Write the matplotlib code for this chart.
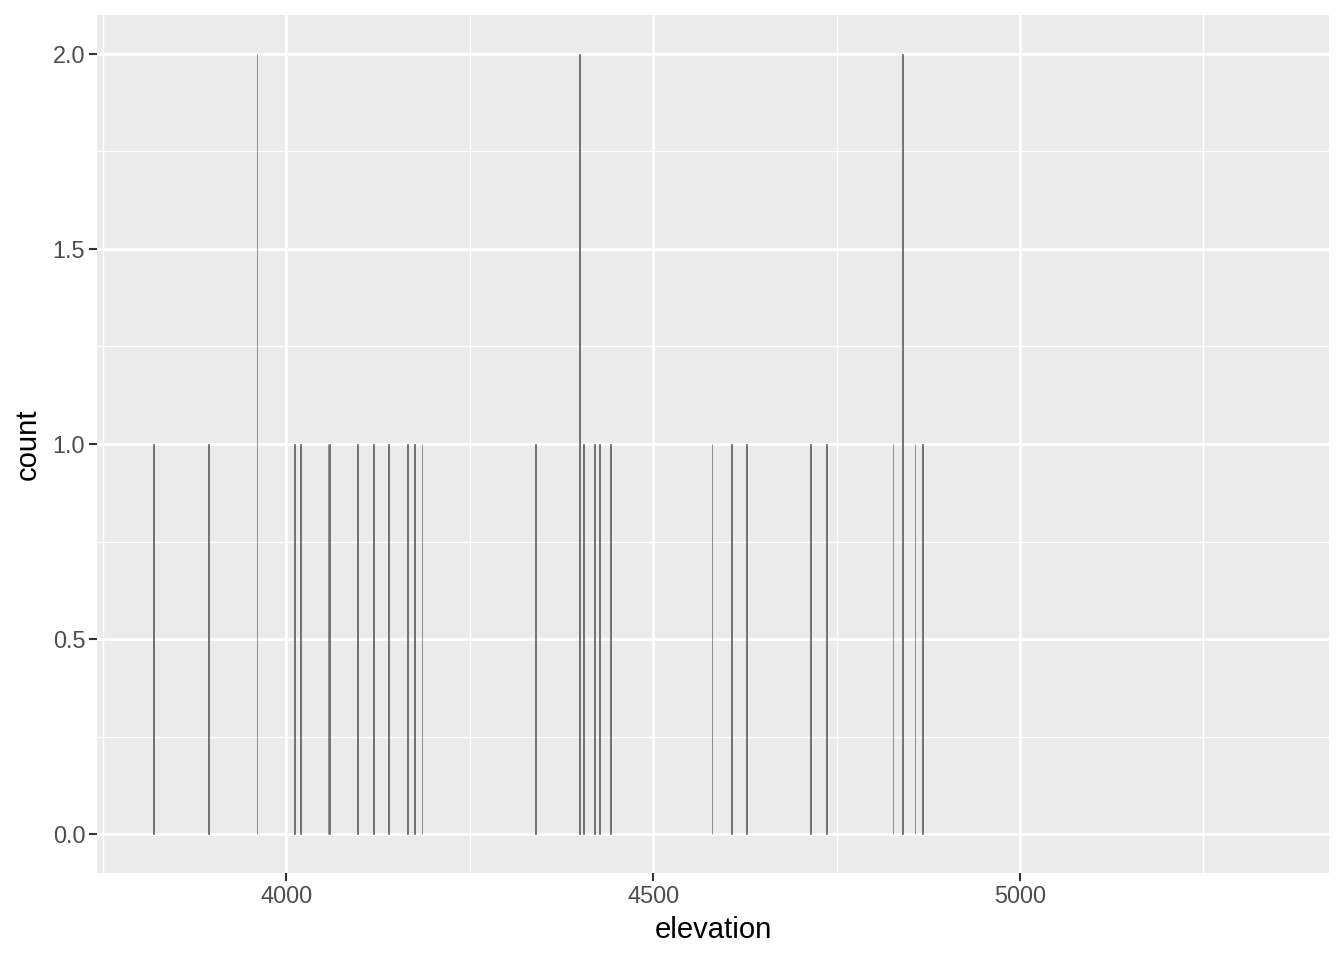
import matplotlib
matplotlib.use("Agg")
import matplotlib.pyplot as plt
import numpy as np

# elevation values (one bar per distinct value) and their counts
elevation = [3819, 3894, 3960, 4011, 4019, 4057, 4059, 4097, 4119, 4139,
             4165, 4175, 4185, 4340, 4400, 4405, 4420, 4427, 4442, 4580,
             4607, 4627, 4714, 4736, 4827, 4840, 4857, 4867]
count = [1, 1, 2, 1, 1, 1, 1, 1, 1, 1,
         1, 1, 1, 1, 2, 1, 1, 1, 1, 1,
         1, 1, 1, 1, 1, 2, 1, 1]

x_major = [4000, 4500, 5000]
x_minor = [3750, 4250, 4750, 5250]
y_major = [0.0, 0.5, 1.0, 1.5, 2.0]
y_minor = [0.25, 0.75, 1.25, 1.75]

plt.rcParams['font.family'] = ['Liberation Sans', 'DejaVu Sans']

fig = plt.figure(figsize=(13.44, 9.6), dpi=100)
ax = fig.add_axes([0.0722, 0.0906, 0.9166, 0.8938])
ax.set_facecolor('#EBEBEB')

ax.bar(elevation, count, width=0.9, color='#595959', edgecolor='#595959',
       linewidth=0.45, zorder=3)

ax.set_xlim(3742, 5421)
ax.set_ylim(-0.1, 2.1)

ax.set_xticks(x_major)
ax.set_xticks(x_minor, minor=True)
ax.set_yticks(y_major)
ax.set_yticks(y_minor, minor=True)
ax.set_yticklabels(['0.0', '0.5', '1.0', '1.5', '2.0'])

ax.grid(which='major', color='white', linewidth=2.0, zorder=1)
ax.grid(which='minor', color='white', linewidth=1.0, zorder=1)
ax.set_axisbelow(True)

for s in ax.spines.values():
    s.set_visible(False)

ax.tick_params(which='major', length=5.5, width=1.5, color='#333333',
               labelsize=16.9, labelcolor='#4D4D4D', pad=3)
ax.tick_params(which='minor', length=0)

ax.set_xlabel('elevation', fontsize=21.1, color='black', labelpad=6)
ax.set_ylabel('count', fontsize=21.1, color='black', labelpad=8)

fig.savefig('out.png', dpi=100, facecolor='white')
